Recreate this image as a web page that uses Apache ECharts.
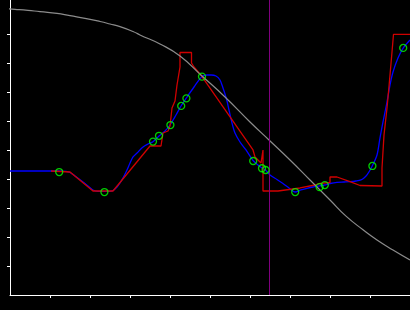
<!DOCTYPE html>
<html><head><meta charset="utf-8">
<script src="https://cdn.jsdelivr.net/npm/echarts@6/dist/echarts.min.js"></script>
<style>html,body{margin:0;padding:0;background:#000;}#c{width:410px;height:310px;}</style>
</head><body><div id="c"></div>
<script>
// tick positions
const xTicks = [1, 2, 3, 4, 5, 6, 7, 8, 9];
const yTicks = [1, 2, 3, 4, 5, 6, 7, 8, 9];

// gray reference curve
const grayX = [-0.25, 0.125, 0.45, 0.75, 1.175, 1.5, 1.875, 2.25, 2.5, 2.75, 3.075, 3.25, 3.75, 4.25, 4.8, 5.375, 6.0, 6.475, 7.0, 7.5, 8.0, 8.4, 8.825, 9.175, 9.575, 10.0];
const grayY = [9.886, 9.852, 9.817, 9.769, 9.714, 9.631, 9.541, 9.431, 9.345, 9.252, 9.086, 8.966, 8.655, 8.241, 7.552, 6.828, 5.966, 5.345, 4.655, 3.966, 3.276, 2.72, 2.25, 1.897, 1.552, 1.207];

// blue smooth curve
const blueX = [0, 1.225, 1.4, 1.5, 1.625, 1.825, 1.95, 2.075, 2.2, 2.5, 2.575, 2.675, 2.75, 2.8375, 2.925, 3.0, 3.075, 3.175, 3.325, 3.45, 3.575, 3.725, 3.875, 4.0, 4.15, 4.275, 4.4, 4.6, 4.8, 4.925, 5.025, 5.15, 5.25, 5.325, 5.375, 5.425, 5.475, 5.55, 5.625, 5.75, 5.9, 6.075, 6.2, 6.3, 6.3875, 6.5, 6.675, 6.825, 6.975, 7.125, 7.275, 7.425, 7.575, 7.7375, 7.8625, 8.0, 8.175, 8.35, 8.5, 8.65, 8.775, 8.85, 8.925, 9.05, 9.175, 9.25, 9.325, 9.425, 9.5, 9.575, 9.7, 9.825, 10.0];
const blueY = [4.276, 4.276, 4.266, 4.224, 4.103, 3.897, 3.759, 3.621, 3.576, 3.576, 3.603, 3.724, 3.862, 4.069, 4.310, 4.552, 4.759, 4.897, 5.103, 5.207, 5.286, 5.483, 5.655, 5.862, 6.207, 6.517, 6.776, 7.172, 7.534, 7.586, 7.586, 7.552, 7.414, 7.138, 6.931, 6.690, 6.379, 5.931, 5.586, 5.276, 5.0, 4.638, 4.483, 4.379, 4.310, 4.138, 3.983, 3.845, 3.690, 3.552, 3.621, 3.679, 3.724, 3.759, 3.793, 3.845, 3.886, 3.897, 3.907, 3.931, 3.966, 4.034, 4.138, 4.431, 4.828, 5.414, 5.966, 6.655, 7.241, 7.690, 8.172, 8.507, 8.793];

// red stepped curve
const redX = [1.025, 1.5, 2.075, 2.575, 3.5, 3.775, 3.825, 3.95, 4.0, 4.05, 4.05, 4.125, 4.175, 4.25, 4.25, 4.5375, 4.5375, 4.6, 4.8, 6.075, 6.125, 6.125, 6.275, 6.325, 6.325, 6.7, 6.7, 7.25, 7.625, 7.75, 8.0, 8.0, 8.175, 8.5, 8.75, 9.3, 9.3, 9.35, 9.35, 9.425, 9.4625, 9.5, 9.55, 9.5875, 10.0];
const redY = [4.276, 4.241, 3.586, 3.586, 5.138, 5.138, 5.586, 5.655, 5.828, 5.828, 6.448, 6.690, 7.241, 7.862, 8.362, 8.362, 8.0, 7.862, 7.534, 5.0, 5.0, 4.759, 4.552, 5.0, 3.586, 3.586, 3.603, 3.690, 3.793, 3.852, 3.879, 4.069, 4.069, 3.907, 3.776, 3.759, 4.379, 4.379, 5.517, 6.448, 7.0, 7.586, 8.379, 8.990, 8.990];

// sample points (green circles)
const pointX = [1.23, 2.36, 3.575, 3.725, 4.01, 4.28, 4.41, 4.80, 6.08, 6.30, 6.39, 7.13, 7.74, 7.87, 9.06, 9.83];
const pointY = [4.24, 3.55, 5.29, 5.49, 5.86, 6.52, 6.78, 7.53, 4.62, 4.37, 4.31, 3.55, 3.72, 3.79, 4.45, 8.52];

// vertical cursor
const cursorX = 6.4875;
const yTop = 10.172;

const zip = (a, b) => a.map((v, i) => [v, b[i]]);

const chart = echarts.init(document.getElementById('c'), null, {renderer: 'canvas'});
chart.setOption({
  animation: false,
  backgroundColor: '#000',
  grid: {left: 10, right: 0, top: 0, bottom: 15, containLabel: false},
  xAxis: {
    type: 'value', min: 0, max: 10, interval: 1,
    axisLine: {show: true, lineStyle: {color: '#fff', width: 1}},
    axisTick: {show: true, length: 3, inside: false, customValues: xTicks, lineStyle: {color: '#fff', width: 1}},
    axisLabel: {show: false},
    splitLine: {show: false}
  },
  yAxis: {
    type: 'value', min: 0, max: yTop, interval: 1,
    axisLine: {show: true, lineStyle: {color: '#fff', width: 1}},
    axisTick: {show: true, length: 3, inside: false, customValues: yTicks, lineStyle: {color: '#fff', width: 1}},
    axisLabel: {show: false},
    splitLine: {show: false}
  },
  series: [
    {type: 'line', data: zip(blueX, blueY), smooth: 0.3, showSymbol: false, symbol: 'none',
     lineStyle: {color: '#0000ff', width: 1.3}, z: 2},
    {type: 'line', data: zip(redX, redY), smooth: false, showSymbol: false, symbol: 'none',
     lineStyle: {color: '#d00000', width: 1.3}, z: 3},
    {type: 'line', data: zip(grayX, grayY), smooth: 0.5, showSymbol: false, symbol: 'none', clip: false,
     lineStyle: {color: '#8c8c8c', width: 1.2}, z: 4},
    {type: 'line', data: [[cursorX, 0], [cursorX, yTop]], showSymbol: false, symbol: 'none',
     lineStyle: {color: '#800080', width: 1}, z: 5},
    {type: 'scatter', data: zip(pointX, pointY), symbol: 'circle', symbolSize: 7,
     itemStyle: {color: 'rgba(0,0,0,0)', borderColor: '#00ff00', borderWidth: 1.3}, z: 6}
  ]
});
</script>
</body></html>
